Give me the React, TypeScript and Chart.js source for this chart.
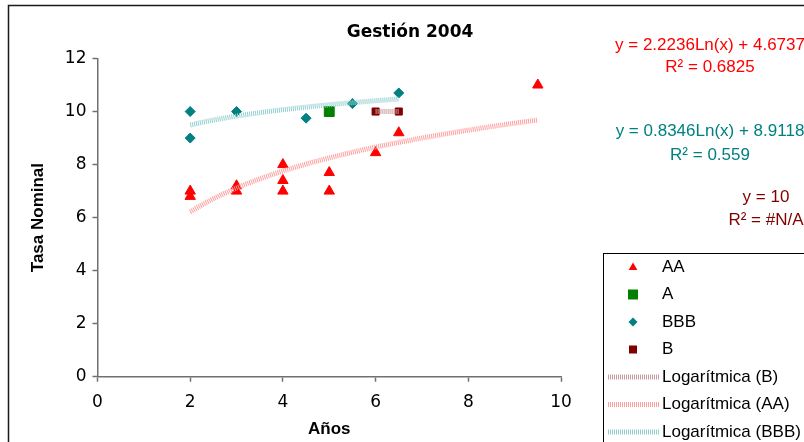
import React, { useEffect, useRef } from 'react';
import { Chart, registerables } from 'chart.js';

Chart.register(...registerables);

const TITLE = 'Gestión 2004';
const X_TITLE = 'Años';
const Y_TITLE = 'Tasa Nominal';

const xTicksMax = 10;
const yTicksMax = 12;
const tickStep = 2;

// Series (x = Años, y = Tasa Nominal)
const aaX = [2, 2, 3, 3, 4, 4, 4, 5, 5, 6, 6.5, 9.5];
const aaY = [7.0, 6.8, 7.2, 7.0, 8.0, 7.4, 7.0, 7.7, 7.0, 8.45, 9.2, 11.0];
const aX = [5];
const aY = [10];
const bbbX = [2, 2, 3, 4.5, 5.5, 6.5];
const bbbY = [10, 9, 10, 9.75, 10.3, 10.7];
const bX = [6, 6.5];
const bY = [10, 10];

// Trendline coefficients as printed on the chart: y = a*Ln(x) + b
const aaFitA = 2.2236;
const aaFitB = 4.6737;
const bbbFitA = 0.8346;
const bbbFitB = 8.9118;
const bFitA = 0;
const bFitB = 10;

const eqAA = ['y = 2.2236Ln(x) + 4.6737', 'R² = 0.6825'];
const eqBBB = ['y = 0.8346Ln(x) + 8.9118', 'R² = 0.559'];
const eqB = ['y = 10', 'R² = #N/A'];

const legendLabels = ['AA', 'A', 'BBB', 'B', 'Logarítmica (B)', 'Logarítmica (AA)', 'Logarítmica (BBB)'];

const RED = '#ff0000';
const GREEN = '#008000';
const TEAL = '#008080';
const MAROON = '#800000';
const TREND_AA = '#ff9e9e';
const TREND_BBB = '#94cfcf';
const TREND_B = '#c99a9a';

function pts(xs: number[], ys: number[]) {
  return xs.map((x, i) => ({ x, y: ys[i] }));
}

function logCurve(xs: number[], a: number, b: number) {
  const lo = Math.min(...xs);
  const hi = Math.max(...xs);
  const out: { x: number; y: number }[] = [];
  const n = 60;
  for (let i = 0; i <= n; i++) {
    const x = lo + ((hi - lo) * i) / n;
    out.push({ x, y: a * Math.log(x) + b });
  }
  return out;
}

function drawTri(ctx: CanvasRenderingContext2D, x: number, y: number, r: number) {
  ctx.beginPath();
  ctx.moveTo(x, y - r);
  ctx.lineTo(x + r * 0.866, y + r * 0.5);
  ctx.lineTo(x - r * 0.866, y + r * 0.5);
  ctx.closePath();
  ctx.fill();
}

const decorPlugin = {
  id: 'decor',
  afterDraw(chart: any) {
    const ctx: CanvasRenderingContext2D = chart.ctx;
    ctx.save();
    // chart area border
    ctx.strokeStyle = '#1a1a1a';
    ctx.lineWidth = 1.5;
    ctx.strokeRect(8.5, 5.5, 1000, 1000);

    // title
    ctx.fillStyle = '#000';
    ctx.font = 'bold 17px "DejaVu Sans"';
    ctx.textAlign = 'center';
    ctx.textBaseline = 'middle';
    ctx.fillText(TITLE, 410, 33);

    // equations
    ctx.font = '17px "Liberation Sans"';
    ctx.fillStyle = RED;
    ctx.fillText(eqAA[0], 710, 45);
    ctx.fillText(eqAA[1], 710, 67.5);
    ctx.fillStyle = TEAL;
    ctx.fillText(eqBBB[0], 710, 131.5);
    ctx.fillText(eqBBB[1], 710, 155);
    ctx.fillStyle = MAROON;
    ctx.fillText(eqB[0], 766, 197);
    ctx.fillText(eqB[1], 766, 220);

    // legend box
    ctx.fillStyle = '#fff';
    ctx.fillRect(603.5, 253, 400, 400);
    ctx.strokeStyle = '#000';
    ctx.lineWidth = 1;
    ctx.strokeRect(603.5, 253.5, 400, 400);

    const rowY = [267, 294.5, 322, 349.5, 377, 404.5, 432];
    const mx = 633;
    // markers
    ctx.fillStyle = RED;
    drawTri(ctx, mx, rowY[0] + 0.5, 5);
    ctx.fillStyle = GREEN;
    ctx.fillRect(mx - 5, rowY[1] - 5, 10, 10);
    ctx.fillStyle = TEAL;
    ctx.beginPath();
    ctx.moveTo(mx, rowY[2] - 4.5);
    ctx.lineTo(mx + 4.5, rowY[2]);
    ctx.lineTo(mx, rowY[2] + 4.5);
    ctx.lineTo(mx - 4.5, rowY[2]);
    ctx.closePath();
    ctx.fill();
    ctx.fillStyle = MAROON;
    ctx.fillRect(mx - 4, rowY[3] - 4, 8, 8);
    // line samples
    const lineCols = [TREND_B, TREND_AA, TREND_BBB];
    ctx.lineWidth = 5;
    ctx.setLineDash([1, 1]);
    for (let i = 0; i < 3; i++) {
      ctx.strokeStyle = lineCols[i];
      ctx.beginPath();
      ctx.moveTo(608, rowY[4 + i]);
      ctx.lineTo(660, rowY[4 + i]);
      ctx.stroke();
    }
    ctx.setLineDash([]);
    // labels
    ctx.fillStyle = '#000';
    ctx.textAlign = 'left';
    ctx.font = '17px "Liberation Sans"';
    legendLabels.forEach((l, i) => ctx.fillText(l, 662, rowY[i]));
    ctx.restore();
  },
};

export default function App() {
  const ref = useRef<HTMLCanvasElement | null>(null);
  useEffect(() => {
    if (!ref.current) return;
    const trendCommon = {
      showLine: true,
      pointRadius: 0,
      pointHoverRadius: 0,
      borderWidth: 5,
      borderDash: [1, 1],
      tension: 0,
      order: 0,
      fill: false,
    };
    const chart = new Chart(ref.current, {
      type: 'scatter',
      data: {
        datasets: [
          {
            label: 'AA',
            data: pts(aaX, aaY),
            pointStyle: 'triangle',
            pointRadius: 6,
            backgroundColor: RED,
            borderColor: RED,
            borderWidth: 1,
            order: 1,
          },
          {
            label: 'A',
            data: pts(aX, aY),
            pointStyle: 'rect',
            pointRadius: 7,
            backgroundColor: GREEN,
            borderColor: GREEN,
            borderWidth: 1,
            order: 1,
          },
          {
            label: 'BBB',
            data: pts(bbbX, bbbY),
            pointStyle: 'rectRot',
            pointRadius: 5,
            backgroundColor: TEAL,
            borderColor: TEAL,
            borderWidth: 1,
            order: 1,
          },
          {
            label: 'B',
            data: pts(bX, bY),
            pointStyle: 'rect',
            pointRadius: 5,
            backgroundColor: MAROON,
            borderColor: MAROON,
            borderWidth: 1,
            order: 1,
          },
          { label: 'Logarítmica (B)', data: logCurve(bX, bFitA, bFitB), borderColor: TREND_B, ...trendCommon },
          { label: 'Logarítmica (AA)', data: logCurve(aaX, aaFitA, aaFitB), borderColor: TREND_AA, ...trendCommon },
          { label: 'Logarítmica (BBB)', data: logCurve(bbbX, bbbFitA, bbbFitB), borderColor: TREND_BBB, ...trendCommon },
        ] as any,
      },
      options: {
        animation: false,
        responsive: false,
        maintainAspectRatio: false,
        layout: { padding: { left: 0, top: 58.5, right: 243, bottom: 0 } },
        plugins: {
          legend: { display: false },
          tooltip: { enabled: false },
          title: { display: false },
        },
        scales: {
          x: {
            type: 'linear',
            min: 0,
            max: xTicksMax,
            afterFit: (s: any) => {
              s.height = 65.3;
            },
            ticks: {
              stepSize: tickStep,
              color: '#000',
              padding: 11,
              font: { family: '"DejaVu Sans"', size: 17 },
            },
            grid: {
              display: true,
              drawOnChartArea: false,
              drawTicks: true,
              tickLength: 5,
              tickColor: '#707070',
              tickWidth: 1.5,
            },
            border: { display: true, color: '#707070', width: 1.5 },
            title: {
              display: true,
              text: X_TITLE,
              color: '#000',
              font: { family: '"Liberation Sans"', size: 17, weight: 'bold' },
              padding: { top: 0, bottom: 2 },
            },
          },
          y: {
            type: 'linear',
            min: 0,
            max: yTicksMax,
            afterFit: (s: any) => {
              s.width = 97.5;
            },
            ticks: {
              stepSize: tickStep,
              color: '#000',
              padding: 6,
              font: { family: '"DejaVu Sans"', size: 17 },
            },
            grid: {
              display: true,
              drawOnChartArea: false,
              drawTicks: true,
              tickLength: 5,
              tickColor: '#707070',
              tickWidth: 1.5,
            },
            border: { display: true, color: '#707070', width: 1.5 },
            title: {
              display: true,
              text: Y_TITLE,
              color: '#000',
              font: { family: '"Liberation Sans"', size: 17, weight: 'bold' },
              padding: { top: 28, bottom: 0 },
            },
          },
        },
      } as any,
      plugins: [decorPlugin],
    });
    return () => chart.destroy();
  }, []);
  return (
    <div style={{ position: 'absolute', left: 0, top: 0, width: 804, height: 442, background: '#fff' }}>
      <canvas ref={ref} width={804} height={442} style={{ display: 'block', width: 804, height: 442 }} />
    </div>
  );
}
